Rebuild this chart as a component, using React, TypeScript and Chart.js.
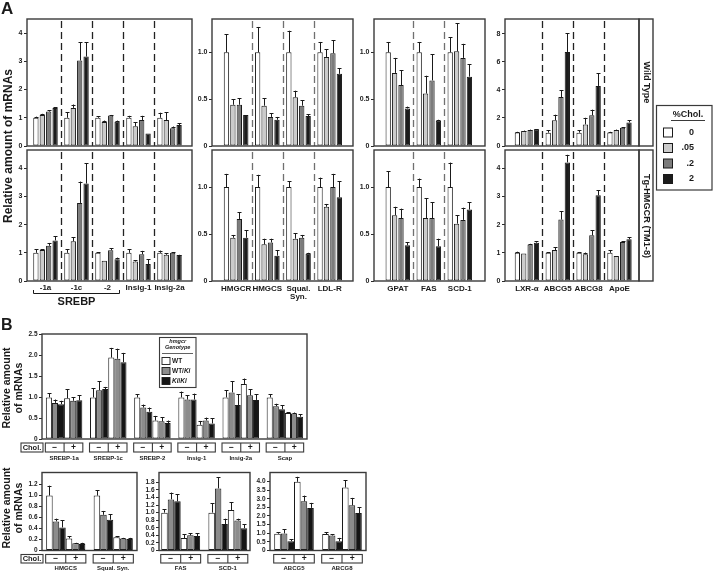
import React, { useEffect, useRef } from "react";
import { Chart, registerables } from "chart.js";

Chart.register(...registerables);

const PAGE_W = 713;
const PAGE_H = 575;
const FF = '"Liberation Sans", Arial, Helvetica, sans-serif';
const fnt = (size: number, style = "bold") => `${style} ${size}px ${FF}`;

// ================= Panel A =================
const cholDoses = ["0", ".05", ".2", "2"];
const srebpGenes = [["-1a"], ["-1c"], ["-2"], ["Insig-1"], ["Insig-2a"]];
const sterolGenes = [["HMGCR"], ["HMGCS"], ["Squal.", "Syn."], ["LDL-R"]];
const lipoGenes = [["GPAT"], ["FAS"], ["SCD-1"]];
const lxrGenes = [["LXR-\u03b1"], ["ABCG5"], ["ABCG8"], ["ApoE"]];

// rows = %Chol dose (0, .05, .2, 2); columns = genes
const wtSrebp = [
  [1.0, 1.0, 1.0, 1.0, 1.0],
  [1.1, 1.35, 0.85, 0.7, 0.92],
  [1.22, 3.03, 1.08, 0.92, 0.63],
  [1.35, 3.17, 0.86, 0.44, 0.74],
];
const wtSrebpErr = [
  [0.04, 0.2, 0.06, 0.07, 0.18],
  [0.04, 0.12, 0.05, 0.15, 0.27],
  [0.05, 0.64, 0.02, 0.15, 0.06],
  [0.03, 0.5, 0.04, 0, 0.06],
];
const tgSrebp = [
  [1.0, 1.0, 1.0, 1.0, 1.0],
  [1.1, 1.41, 0.72, 0.69, 0.93],
  [1.25, 2.77, 1.09, 0.95, 1.0],
  [1.44, 3.46, 0.77, 0.6, 0.92],
];
const tgSrebpErr = [
  [0.13, 0.13, 0.02, 0.13, 0.08],
  [0.03, 0.15, 0, 0.04, 0.05],
  [0.1, 0.76, 0.08, 0.12, 0.02],
  [0.15, 0.72, 0.06, 0.18, 0.01],
];

const wtSterol = [
  [1, 1, 1, 1],
  [0.44, 0.43, 0.52, 0.95],
  [0.44, 0.31, 0.43, 0.99],
  [0.33, 0.28, 0.32, 0.77],
];
const wtSterolErr = [
  [0.19, 0.27, 0.23, 0.11],
  [0.06, 0.08, 0.07, 0.08],
  [0.07, 0.04, 0.06, 0.14],
  [0, 0.03, 0.02, 0.06],
];
const tgSterol = [
  [1, 1, 1, 1],
  [0.46, 0.39, 0.45, 0.79],
  [0.66, 0.41, 0.46, 1.0],
  [0.46, 0.27, 0.29, 0.89],
];
const tgSterolErr = [
  [0.14, 0.13, 0.06, 0.1],
  [0.03, 0.06, 0.06, 0.03],
  [0.07, 0.04, 0.03, 0.14],
  [0.08, 0.06, 0.01, 0.17],
];

const wtLipo = [
  [1, 1, 1],
  [0.78, 0.56, 1.01],
  [0.65, 0.7, 0.94],
  [0.4, 0.27, 0.74],
];
const wtLipoErr = [
  [0.11, 0.11, 0.16],
  [0.16, 0.19, 0.3],
  [0.16, 0.28, 0.15],
  [0.02, 0.01, 0.13],
];
const tgLipo = [
  [1, 1, 1],
  [0.7, 0.67, 0.61],
  [0.67, 0.67, 0.65],
  [0.38, 0.37, 0.76],
];
const tgLipoErr = [
  [0.17, 0.09, 0.26],
  [0.09, 0.21, 0.09],
  [0.1, 0.17, 0.13],
  [0.03, 0.08, 0.08],
];

const wtLxr = [
  [0.97, 0.95, 0.95, 0.97],
  [1.07, 1.83, 1.54, 1.14],
  [1.14, 3.49, 2.19, 1.3],
  [1.19, 6.7, 4.28, 1.68],
];
const wtLxrErr = [
  [0.04, 0.19, 0.19, 0.04],
  [0.03, 0.4, 0.47, 0.03],
  [0.03, 0.47, 0.4, 0.03],
  [0.02, 1.33, 0.9, 0.17],
];
const tgLxr = [
  [1, 1, 1, 1],
  [0.98, 1.1, 0.95, 0.89],
  [1.3, 2.18, 1.62, 1.38],
  [1.36, 4.21, 3.04, 1.48],
];
const tgLxrErr = [
  [0.04, 0.02, 0.03, 0.09],
  [0, 0.1, 0.06, 0],
  [0.02, 0.3, 0.19, 0.03],
  [0.06, 0.27, 0.18, 0.08],
];

const ticksInt = [0, 1, 2, 3, 4];
const ticksIntText = ["0", "1", "2", "3", "4"];
const ticksHalf = [0, 0.5, 1.0];
const ticksHalfText = ["0", "0.5", "1.0"];
const ticksEven = [0, 2, 4, 6, 8];
const ticksEvenText = ["0", "2", "4", "6", "8"];

// ================= Panel B =================
const genotypes = ["WT", "WT/Ki", "Ki/Ki"];
const bGenesTop = [["SREBP-1a"], ["SREBP-1c"], ["SREBP-2"], ["Insig-1"], ["Insig-2a"], ["Scap"]];
const bGenesSterol = [["HMGCS"], ["Squal. Syn."]];
const bGenesLipo = [["FAS"], ["SCD-1"]];
const bGenesAbcg = [["ABCG5"], ["ABCG8"]];

// rows = WT-, WT/Ki-, Ki/Ki-, WT+, WT/Ki+, Ki/Ki+ (Chol. - / +)
const bSrebp = [
  [0.99, 0.99, 0.99, 0.99, 0.99, 0.99],
  [0.86, 1.16, 0.75, 0.94, 1.11, 0.78],
  [0.83, 1.19, 0.65, 0.94, 0.81, 0.71],
  [0.97, 1.94, 0.44, 0.34, 1.31, 0.62],
  [0.91, 1.91, 0.42, 0.44, 1.04, 0.61],
  [0.92, 1.83, 0.38, 0.37, 0.93, 0.53],
];
const bSrebpErr = [
  [0.1, 0.22, 0.07, 0.14, 0.17, 0.07],
  [0.08, 0.22, 0.07, 0.1, 0.26, 0.06],
  [0.08, 0.05, 0.1, 0.14, 0.26, 0.09],
  [0.21, 0.23, 0.11, 0.09, 0.13, 0.02],
  [0.08, 0.24, 0.1, 0.07, 0.15, 0.02],
  [0.12, 0.22, 0.06, 0.12, 0.13, 0.06],
];
const bSterol = [
  [1.0, 1.0],
  [0.53, 0.65],
  [0.42, 0.56],
  [0.22, 0.24],
  [0.13, 0.22],
  [0.12, 0.21],
];
const bSterolErr = [
  [0.18, 0.1],
  [0.05, 0.07],
  [0.13, 0.1],
  [0.04, 0.02],
  [0.01, 0.01],
  [0.02, 0.02],
];
const bLipo = [
  [1.0, 1.0],
  [1.35, 1.64],
  [1.3, 0.7],
  [0.33, 1.07],
  [0.4, 0.79],
  [0.38, 0.59],
];
const bLipoErr = [
  [0.09, 0.25],
  [0.18, 0.29],
  [0.18, 0.14],
  [0.1, 0.2],
  [0.05, 0.05],
  [0.07, 0.1],
];
const bAbcg = [
  [0.97, 0.95],
  [0.99, 0.87],
  [0.54, 0.54],
  [3.98, 3.65],
  [2.85, 2.62],
  [2.47, 2.17],
];
const bAbcgErr = [
  [0.08, 0.1],
  [0.23, 0.08],
  [0.12, 0.19],
  [0.29, 0.43],
  [0.33, 0.43],
  [0.29, 0.35],
];

const bTicksTop = [0, 0.5, 1, 1.5, 2, 2.5];
const bTicksTopText = ["0", "0.5", "1.0", "1.5", "2.0", "2.5"];
const bTicksSterol = [0, 0.2, 0.4, 0.6, 0.8, 1.0, 1.2];
const bTicksSterolText = ["0", "0.2", "0.4", "0.6", "0.8", "1.0", "1.2"];
const bTicksLipo = [0, 0.2, 0.4, 0.6, 0.8, 1.0, 1.2, 1.4, 1.6, 1.8];
const bTicksLipoText = ["0", "0.2", "0.4", "0.6", "0.8", "1.0", "1.2", "1.4", "1.6", "1.8"];
const bTicksAbcg = [0, 0.5, 1, 1.5, 2, 2.5, 3, 3.5, 4];
const bTicksAbcgText = ["0", "0.5", "1.0", "1.5", "2.0", "2.5", "3.0", "3.5", "4.0"];

// ================= styles =================
const aColors = ["#ffffff", "#cbcbcb", "#7c7c7c", "#1c1c1c"];
const bColors = ["#ffffff", "#8c8c8c", "#151515", "#ffffff", "#8c8c8c", "#151515"];
const INK = "#1a1a1a";
const BOX = "#3a3a3a";

type Panel = {
  key: string;
  box: [number, number, number, number];
  xRange: [number, number];
  yMax: number;
  yTicks: number[];
  yTickText: string[];
  yFont: number;
  values: number[][];
  errors: number[][];
  colors: string[];
  catPct: number;
  barPct: number;
  sep: string | null;
  labels: string[][];
  showLabels: boolean;
  labelY: number;
  labelFont: number;
  chol?: { top: number; h: number };
  extra?: (chart: any) => void;
};

function text(ctx: CanvasRenderingContext2D, s: string, x: number, y: number, font: string, align: CanvasTextAlign = "center", rot = 0, color = INK) {
  ctx.save();
  ctx.translate(x, y);
  if (rot) ctx.rotate((rot * Math.PI) / 180);
  ctx.font = font;
  ctx.fillStyle = color;
  ctx.textAlign = align;
  ctx.textBaseline = "middle";
  ctx.fillText(s, 0, 0);
  ctx.restore();
}

function drawDecor(ctx: CanvasRenderingContext2D) {
  ctx.save();
  text(ctx, "A", 1, 9.5, fnt(17), "left");
  text(ctx, "B", 1, 326, fnt(16), "left");
  text(ctx, "Relative amount of mRNAs", 8.5, 146, fnt(12), "center", -90);
  text(ctx, "Relative amount", 7, 388, fnt(10.5), "center", -90);
  text(ctx, "of mRNAs", 19, 388, fnt(10.5), "center", -90);
  text(ctx, "Relative amount", 7, 508, fnt(10.5), "center", -90);
  text(ctx, "of mRNAs", 19, 508, fnt(10.5), "center", -90);

  // strips
  ctx.strokeStyle = BOX;
  ctx.lineWidth = 1.4;
  ctx.strokeRect(639, 19, 14, 127);
  ctx.strokeRect(639, 150, 14, 131);
  text(ctx, "Wild Type", 646.5, 82.5, fnt(9), "center", 90);
  text(ctx, "Tg-HMGCR (TM1-8)", 646.5, 216, fnt(9.2), "center", 90);

  // legend A
  ctx.lineWidth = 1.2;
  ctx.strokeRect(656.5, 105.5, 55.5, 84.5);
  text(ctx, "%Chol.", 688, 114.5, fnt(9));
  ctx.beginPath();
  ctx.moveTo(671, 120.5);
  ctx.lineTo(705, 120.5);
  ctx.lineWidth = 1;
  ctx.stroke();
  cholDoses.forEach((d, k) => {
    const y = 132.5 + 15.5 * k;
    ctx.fillStyle = aColors[k];
    ctx.fillRect(663.5, y - 4.5, 9, 9);
    ctx.strokeStyle = INK;
    ctx.strokeRect(663.5, y - 4.5, 9, 9);
    text(ctx, d, 694, y, fnt(9), "right");
  });

  // legend B
  ctx.strokeStyle = BOX;
  ctx.lineWidth = 1.1;
  ctx.strokeRect(159.5, 337.5, 36.5, 50);
  text(ctx, "hmgcr", 177.7, 341.8, fnt(5.5, "italic bold"));
  text(ctx, "Genotype", 177.7, 347.8, fnt(5.5, "italic bold"));
  ctx.beginPath();
  ctx.moveTo(162, 353.5);
  ctx.lineTo(193, 353.5);
  ctx.lineWidth = 0.8;
  ctx.stroke();
  genotypes.forEach((g, k) => {
    const y = 361 + 10 * k;
    ctx.fillStyle = bColors[k];
    ctx.fillRect(162, y - 3.5, 8, 7);
    ctx.strokeStyle = INK;
    ctx.lineWidth = 0.9;
    ctx.strokeRect(162, y - 3.5, 8, 7);
    const parts = g.split("/");
    let x = 172;
    ctx.font = fnt(6.5);
    if (parts[0] === "WT") {
      text(ctx, "WT", x, y, fnt(6.5), "left");
      x += ctx.measureText("WT").width;
    } else {
      text(ctx, parts[0], x, y, fnt(6.5, "italic bold"), "left");
      ctx.font = fnt(6.5, "italic bold");
      x += ctx.measureText(parts[0]).width;
    }
    if (parts.length > 1) {
      text(ctx, "/", x, y, fnt(6.5), "left");
      ctx.font = fnt(6.5);
      x += ctx.measureText("/").width;
      text(ctx, parts[1], x, y, fnt(6.5, "italic bold"), "left");
    }
  });

  // Chol. label boxes
  ctx.strokeStyle = BOX;
  ctx.lineWidth = 1.1;
  ctx.strokeRect(21, 443, 22, 9);
  text(ctx, "Chol.", 32, 447.8, fnt(7.5));
  ctx.strokeRect(21, 554.5, 22, 8.5);
  text(ctx, "Chol.", 32, 559, fnt(7.5));
  ctx.restore();
}

function drawSrebpBracket(chart: any) {
  const ctx: CanvasRenderingContext2D = chart.ctx;
  const xs = chart.scales.x;
  const x0 = xs.getPixelForValue(0) - 12;
  const x1 = xs.getPixelForValue(2) + 12;
  ctx.save();
  ctx.strokeStyle = INK;
  ctx.lineWidth = 1;
  ctx.beginPath();
  ctx.moveTo(x0, 290);
  ctx.lineTo(x0, 293.5);
  ctx.lineTo(x1, 293.5);
  ctx.lineTo(x1, 290);
  ctx.stroke();
  text(ctx, "SREBP", (x0 + x1) / 2, 301.5, fnt(11));
  ctx.restore();
}

function makePlugin(p: Panel) {
  return {
    id: "panel-" + p.key,
    beforeDatasetsDraw(chart: any) {
      if (!p.sep) return;
      const ctx: CanvasRenderingContext2D = chart.ctx;
      const ca = chart.chartArea;
      const xs = chart.scales.x;
      ctx.save();
      ctx.strokeStyle = p.sep;
      ctx.lineWidth = 1.3;
      ctx.setLineDash([7, 4]);
      for (let i = 0; i < p.labels.length - 1; i++) {
        const x = Math.round(xs.getPixelForValue(i + 0.5)) + 0.5;
        ctx.beginPath();
        ctx.moveTo(x, ca.top + 2);
        ctx.lineTo(x, ca.bottom);
        ctx.stroke();
      }
      ctx.restore();
    },
    afterDatasetsDraw(chart: any) {
      const ctx: CanvasRenderingContext2D = chart.ctx;
      const ys = chart.scales.y;
      ctx.save();
      ctx.strokeStyle = INK;
      ctx.lineWidth = 1;
      p.errors.forEach((row, d) => {
        const meta = chart.getDatasetMeta(d);
        meta.data.forEach((bar: any, i: number) => {
          const e = row[i];
          if (!e) return;
          const v = p.values[d][i];
          const y0 = ys.getPixelForValue(v);
          const y1 = ys.getPixelForValue(v + e);
          const x = Math.round(bar.x) + 0.5;
          ctx.beginPath();
          ctx.moveTo(x, y0);
          ctx.lineTo(x, y1);
          ctx.moveTo(x - 2, Math.round(y1) + 0.5);
          ctx.lineTo(x + 2, Math.round(y1) + 0.5);
          ctx.stroke();
        });
      });
      ctx.restore();
    },
    afterDraw(chart: any) {
      const ctx: CanvasRenderingContext2D = chart.ctx;
      const ca = chart.chartArea;
      const xs = chart.scales.x;
      ctx.save();
      ctx.strokeStyle = BOX;
      ctx.lineWidth = 1.4;
      ctx.strokeRect(ca.left, ca.top, ca.right - ca.left, ca.bottom - ca.top);
      if (p.showLabels) {
        p.labels.forEach((lines, i) => {
          const x = xs.getPixelForValue(i);
          lines.forEach((ln, j) => text(ctx, ln, x, p.labelY + j * 8, fnt(p.labelFont)));
        });
      }
      if (p.chol) {
        const unit = xs.getPixelForValue(1) - xs.getPixelForValue(0);
        const hw = (unit * p.catPct) / 2 + 0.5;
        const { top, h } = p.chol;
        ctx.lineWidth = 1.1;
        ctx.strokeStyle = BOX;
        p.labels.forEach((_l, i) => {
          const cx = xs.getPixelForValue(i);
          ctx.strokeRect(cx - hw, top, hw * 2, h);
          ctx.beginPath();
          ctx.moveTo(cx, top);
          ctx.lineTo(cx, top + h);
          ctx.stroke();
          text(ctx, "\u2212", cx - hw / 2, top + h / 2 + 0.3, fnt(8.5));
          text(ctx, "+", cx + hw / 2, top + h / 2 + 0.3, fnt(8.5));
        });
      }
      if (p.extra) p.extra(chart);
      ctx.restore();
    },
  };
}

function buildConfig(p: Panel): any {
  const yw = Math.min(22, p.box[0]);
  return {
    type: "bar",
    data: {
      datasets: p.values.map((row, d) => ({
        label: String(d),
        data: row.map((v, i) => ({ x: i, y: v })),
        backgroundColor: p.colors[d],
        borderColor: INK,
        borderWidth: 1,
        borderSkipped: false,
        categoryPercentage: p.catPct,
        barPercentage: p.barPct,
      })),
    },
    options: {
      responsive: false,
      maintainAspectRatio: false,
      animation: false,
      events: [],
      layout: {
        padding: {
          left: p.box[0] - yw,
          top: p.box[1],
          right: PAGE_W - p.box[2],
          bottom: PAGE_H - p.box[3],
        },
      },
      plugins: { legend: { display: false }, tooltip: { enabled: false }, title: { display: false } },
      scales: {
        x: {
          type: "linear",
          display: false,
          offset: false,
          min: p.xRange[0],
          max: p.xRange[1],
          grid: { offset: false },
          afterBuildTicks: (s: any) => {
            s.ticks = p.labels.map((_l, i) => ({ value: i }));
          },
        },
        y: {
          type: "linear",
          position: "left",
          min: 0,
          max: p.yMax,
          afterBuildTicks: (s: any) => {
            s.ticks = p.yTicks.map((v) => ({ value: v }));
          },
          afterFit: (s: any) => {
            s.width = yw;
          },
          ticks: {
            autoSkip: false,
            padding: 1.5,
            color: INK,
            font: { family: FF, size: p.yFont, weight: "bold" },
            callback: (_v: any, i: number) => p.yTickText[i],
          },
          grid: { display: true, drawOnChartArea: false, drawTicks: true, tickLength: 3, color: "#2a2a2a", lineWidth: 1 },
          border: { display: false },
        },
      },
    },
    plugins: [makePlugin(p)],
  };
}

const A_TOP: [number, number] = [19, 146];
const A_BOT: [number, number] = [150, 281];

const panels: Panel[] = [
  {
    key: "a1t", box: [27, A_TOP[0], 192, A_TOP[1]], xRange: [-0.597, 4.726], yMax: 4.5,
    yTicks: ticksInt, yTickText: ticksIntText, yFont: 7, values: wtSrebp, errors: wtSrebpErr,
    colors: aColors, catPct: 0.826, barPct: 0.83, sep: "#222", labels: srebpGenes, showLabels: false,
    labelY: 288, labelFont: 8, extra: (c) => drawDecor(c.ctx),
  },
  {
    key: "a1b", box: [27, A_BOT[0], 192, A_BOT[1]], xRange: [-0.597, 4.726], yMax: 4.65,
    yTicks: ticksInt, yTickText: ticksIntText, yFont: 7, values: tgSrebp, errors: tgSrebpErr,
    colors: aColors, catPct: 0.826, barPct: 0.83, sep: "#222", labels: srebpGenes, showLabels: true,
    labelY: 288, labelFont: 8, extra: drawSrebpBracket,
  },
  {
    key: "a2t", box: [212, A_TOP[0], 353, A_TOP[1]], xRange: [-0.773, 3.747], yMax: 1.355,
    yTicks: ticksHalf, yTickText: ticksHalfText, yFont: 7, values: wtSterol, errors: wtSterolErr,
    colors: aColors, catPct: 0.826, barPct: 0.83, sep: "#707070", labels: sterolGenes, showLabels: false,
    labelY: 289, labelFont: 8,
  },
  {
    key: "a2b", box: [212, A_BOT[0], 353, A_BOT[1]], xRange: [-0.773, 3.747], yMax: 1.394,
    yTicks: ticksHalf, yTickText: ticksHalfText, yFont: 7, values: tgSterol, errors: tgSterolErr,
    colors: aColors, catPct: 0.826, barPct: 0.83, sep: "#707070", labels: sterolGenes, showLabels: true,
    labelY: 289, labelFont: 8,
  },
  {
    key: "a3t", box: [374, A_TOP[0], 485, A_TOP[1]], xRange: [-0.768, 2.813], yMax: 1.355,
    yTicks: ticksHalf, yTickText: ticksHalfText, yFont: 7, values: wtLipo, errors: wtLipoErr,
    colors: aColors, catPct: 0.826, barPct: 0.83, sep: "#707070", labels: lipoGenes, showLabels: false,
    labelY: 289, labelFont: 8,
  },
  {
    key: "a3b", box: [374, A_BOT[0], 485, A_BOT[1]], xRange: [-0.768, 2.813], yMax: 1.394,
    yTicks: ticksHalf, yTickText: ticksHalfText, yFont: 7, values: tgLipo, errors: tgLipoErr,
    colors: aColors, catPct: 0.826, barPct: 0.83, sep: "#707070", labels: lipoGenes, showLabels: true,
    labelY: 289, labelFont: 8,
  },
  {
    key: "a4t", box: [505, A_TOP[0], 639, A_TOP[1]], xRange: [-0.711, 3.633], yMax: 9.05,
    yTicks: ticksEven, yTickText: ticksEvenText, yFont: 7, values: wtLxr, errors: wtLxrErr,
    colors: aColors, catPct: 0.826, barPct: 0.83, sep: "#222", labels: lxrGenes, showLabels: false,
    labelY: 289, labelFont: 8,
  },
  {
    key: "a4b", box: [505, A_BOT[0], 639, A_BOT[1]], xRange: [-0.711, 3.633], yMax: 4.65,
    yTicks: ticksInt, yTickText: ticksIntText, yFont: 7, values: tgLxr, errors: tgLxrErr,
    colors: aColors, catPct: 0.826, barPct: 0.83, sep: "#222", labels: lxrGenes, showLabels: true,
    labelY: 289, labelFont: 8,
  },
  {
    key: "bt", box: [42, 334, 307, 439], xRange: [-0.5, 5.5], yMax: 2.5,
    yTicks: bTicksTop, yTickText: bTicksTopText, yFont: 6.5, values: bSrebp, errors: bSrebpErr,
    colors: bColors, catPct: 0.826, barPct: 1.0, sep: null, labels: bGenesTop, showLabels: true,
    labelY: 458.5, labelFont: 6, chol: { top: 443, h: 9 },
  },
  {
    key: "b1", box: [42, 472.5, 137, 550.5], xRange: [-0.5, 1.5], yMax: 1.42,
    yTicks: bTicksSterol, yTickText: bTicksSterolText, yFont: 6.5, values: bSterol, errors: bSterolErr,
    colors: bColors, catPct: 0.825, barPct: 1.0, sep: null, labels: bGenesSterol, showLabels: true,
    labelY: 568.5, labelFont: 6, chol: { top: 554.5, h: 8.5 },
  },
  {
    key: "b2", box: [159, 472.5, 250, 550.5], xRange: [-0.46, 1.47], yMax: 2.06,
    yTicks: bTicksLipo, yTickText: bTicksLipoText, yFont: 6.5, values: bLipo, errors: bLipoErr,
    colors: bColors, catPct: 0.825, barPct: 1.0, sep: null, labels: bGenesLipo, showLabels: true,
    labelY: 568.5, labelFont: 6, chol: { top: 554.5, h: 8.5 },
  },
  {
    key: "b3", box: [270, 472.5, 366, 550.5], xRange: [-0.5, 1.5], yMax: 4.52,
    yTicks: bTicksAbcg, yTickText: bTicksAbcgText, yFont: 6.5, values: bAbcg, errors: bAbcgErr,
    colors: bColors, catPct: 0.825, barPct: 1.0, sep: null, labels: bGenesAbcg, showLabels: true,
    labelY: 568.5, labelFont: 6, chol: { top: 554.5, h: 8.5 },
  },
];

export default function App() {
  const refs = useRef<(HTMLCanvasElement | null)[]>([]);
  useEffect(() => {
    const charts = panels.map((p, i) => new Chart(refs.current[i] as HTMLCanvasElement, buildConfig(p)));
    return () => {
      charts.forEach((c) => c.destroy());
    };
  }, []);
  return (
    <div style={{ position: "absolute", left: 0, top: 0, width: PAGE_W, height: PAGE_H, background: "#fff", overflow: "hidden" }}>
      {panels.map((p, i) => (
        <canvas
          key={p.key}
          ref={(el) => {
            refs.current[i] = el;
          }}
          width={PAGE_W}
          height={PAGE_H}
          style={{ position: "absolute", left: 0, top: 0, width: PAGE_W, height: PAGE_H }}
        />
      ))}
    </div>
  );
}
